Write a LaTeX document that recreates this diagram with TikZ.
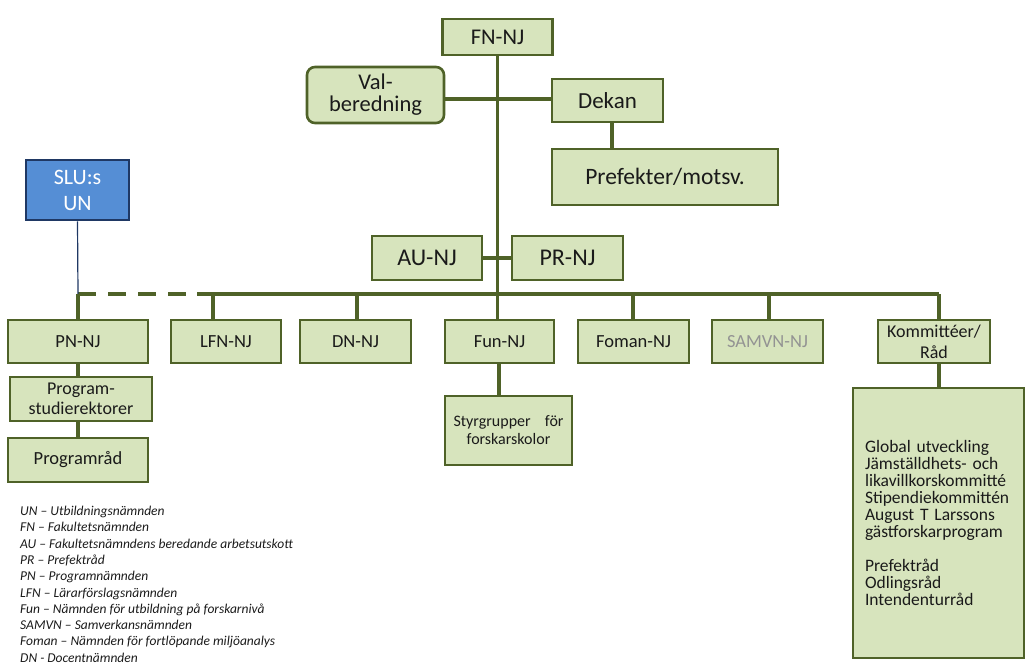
\documentclass[tikz,border=0pt]{standalone}
\usepackage{fontspec}
\setmainfont{Carlito}
\definecolor{boxfill}{HTML}{D7E4BD}
\definecolor{olive}{HTML}{4F6228}
\definecolor{bluefill}{HTML}{558ED5}
\definecolor{navy}{HTML}{1F3864}
\definecolor{txt}{HTML}{1A1A1A}
\begin{document}
\begin{tikzpicture}[x=1pt,y=-1pt,
  gbox/.style={draw=olive,fill=boxfill,line width=2.6pt,inner sep=2pt,text=txt,align=center},
  conn/.style={draw=olive,line width=3.5pt},
  big/.style={gbox,font=\fontsize{23}{25}\selectfont},
  mid/.style={gbox,font=\fontsize{18.5}{21}\selectfont},
]
\useasboundingbox (0,0) rectangle (1027,666);
% top nodes
\node[big,minimum width=110pt,minimum height=36pt,font=\fontsize{22.5}{25}\selectfont] (fn) at (497.5,37) {FN-NJ};
\node[big,rounded corners=8pt,minimum width=137pt,minimum height=56pt,font=\fontsize{22.5}{22}\selectfont] (val) at (375.5,95) {Val-\\beredning};
\node[big,minimum width=111pt,minimum height=43pt] (dekan) at (607.5,100.5) {Dekan};
\node[big,minimum width=226pt,minimum height=56pt,font=\fontsize{23.5}{25}\selectfont] (pref) at (665,177) {Prefekter/motsv.};
\node[draw=navy,fill=bluefill,line width=2.6pt,text=white,align=center,minimum width=103pt,minimum height=60pt,font=\fontsize{22}{26}\selectfont] (slu) at (77.5,190) {SLU:s\\UN};
\node[big,minimum width=110pt,minimum height=44pt,font=\fontsize{24}{25}\selectfont] (au) at (427,258) {AU-NJ};
\node[big,minimum width=111pt,minimum height=44pt,font=\fontsize{24}{25}\selectfont] (pr) at (567.5,258) {PR-NJ};
% row
\node[mid,minimum width=140pt,minimum height=43pt] (pn) at (78,341.5) {PN-NJ};
\node[mid,minimum width=110pt,minimum height=43pt] (lfn) at (226,341.5) {LFN-NJ};
\node[mid,minimum width=111pt,minimum height=43pt] (dn) at (355.5,341.5) {DN-NJ};
\node[mid,minimum width=109pt,minimum height=43pt] (fun) at (499.5,341.5) {Fun-NJ};
\node[mid,minimum width=111pt,minimum height=43pt] (foman) at (633.5,341.5) {Foman-NJ};
\node[mid,minimum width=111pt,minimum height=43pt,text=gray!85] (samvn) at (767.5,341.5) {SAMVN-NJ};
\node[mid,minimum width=112pt,minimum height=43pt,font=\fontsize{18}{21}\selectfont] (komm) at (934,341.5) {Kommittéer/\\Råd};
\node[mid,minimum width=142pt,minimum height=44pt,font=\fontsize{18}{20}\selectfont] (psr) at (81,399) {Program-\\studierektorer};
\node[mid,minimum width=140pt,minimum height=44pt] (prad) at (78,460) {Programråd};
\node[gbox,minimum width=127pt,minimum height=69pt,font=\fontsize{16}{18}\selectfont] (styr) at (508.5,430.5) {\makebox[110pt][s]{Styrgrupper för}\\forskarskolor};
\node[gbox,minimum width=171pt,minimum height=270pt,align=left,text width=147pt,font=\fontsize{17.5}{16.9}\selectfont] (bigbox) at (938.5,523) {Global utveckling\\Jämställdhets- och\\likavillkorskommitté\\Stipendiekommittén\\August T Larssons\\gästforskarprogram\\[16.9pt]Prefektråd\\Odlingsråd\\Intendenturråd};
% legend
\node[anchor=north west,align=left,inner sep=0pt,text=txt,font=\fontsize{13.5}{16.3}\selectfont\itshape] (legend) at (20,506) {UN – Utbildningsnämnden\\FN – Fakultetsnämnden\\AU – Fakultetsnämndens beredande arbetsutskott\\PR – Prefektråd\\PN – Programnämnden\\LFN – Lärarförslagsnämnden\\Fun – Nämnden för utbildning på forskarnivå\\SAMVN – Samverkansnämnden\\Foman – Nämnden för fortlöpande miljöanalys\\DN - Docentnämnden};
% coordinates
\coordinate (bpn) at (78,294);
\coordinate (bdash) at (197,294);
\coordinate (blfn) at (213,294);
\coordinate (bdn) at (357,294);
\coordinate (btr) at (497.5,294);
\coordinate (bfo) at (633,294);
\coordinate (bsa) at (769,294);
\coordinate (bko) at (939,294);
\coordinate (dk) at (612,0);
\coordinate (vy) at (0,99);
\coordinate (fx) at (499,0);
% connectors
\draw[conn] (fn.south) -- (btr);
\draw[conn] (val.east |- vy) -- (dekan.west |- vy);
\draw[conn] (dekan.south -| dk) -- (pref.north -| dk);
\draw[conn] (au.east) -- (pr.west);
\draw[conn] (bdash) -- (bko);
\draw[conn,dash pattern=on 18pt off 12pt] (bpn) -- (bdash);
\draw[navy,line width=1.2pt] (slu.south) -- (bpn);
\draw[conn] (bpn) -- (pn.north);
\draw[conn] (blfn) -- (blfn |- lfn.north);
\draw[conn] (bdn) -- (bdn |- dn.north);
\draw[conn] (btr) -- (btr |- fun.north);
\draw[conn] (bfo) -- (bfo |- foman.north);
\draw[conn] (bsa) -- (bsa |- samvn.north);
\draw[conn] (bko) -- (bko |- komm.north);
\draw[conn] (pn.south) -- (psr.north -| pn.south);
\draw[conn] (psr.south -| pn.south) -- (prad.north);
\draw[conn] (fun.south -| fx) -- (styr.north -| fx);
\draw[conn] (komm.south -| bko) -- (bigbox.north -| bko);
\end{tikzpicture}
\end{document}
